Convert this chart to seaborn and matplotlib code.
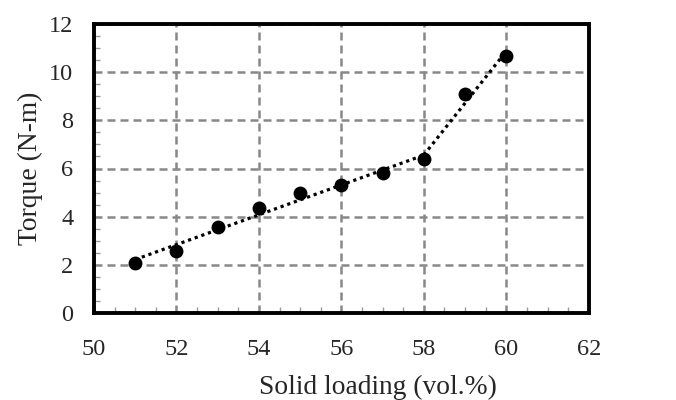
import pandas as pd
import seaborn as sns
import matplotlib.pyplot as plt
from matplotlib.ticker import MultipleLocator

# Torque vs solid loading
solid_loading = [51, 52, 53, 54, 55, 56, 57, 58, 59, 60]
torque = [2.08, 2.59, 3.56, 4.38, 5.00, 5.31, 5.80, 6.38, 9.08, 10.69]

# low-loading and high-loading regions get separate trend lines
split = 7
df = pd.DataFrame({"loading": solid_loading, "torque": torque})
low = df.iloc[:split + 1]
high = df.iloc[split:]

sns.set_style("white")
plt.rcParams['font.family'] = ['Liberation Serif', 'DejaVu Serif']

fig = plt.figure(figsize=(6.76, 4.0), dpi=100)
ax = fig.add_axes([0.139, 0.2175, 0.732, 0.7225])

# grid
ax.set_axisbelow(True)
ax.grid(True, which='major', color='#888888', linestyle=(0, (3.2, 2)), linewidth=1.8)

# trend lines
line_kws = dict(color='black', linestyle=(0, (1, 1.2)), linewidth=2.3)
sns.regplot(data=low, x="loading", y="torque", ci=None, scatter=False,
            truncate=True, line_kws=line_kws, ax=ax)
sns.regplot(data=high, x="loading", y="torque", ci=None, scatter=False,
            truncate=True, line_kws=line_kws, ax=ax)

# measured points
sns.scatterplot(data=df, x="loading", y="torque", color='black', s=100,
                edgecolor='black', linewidth=0, zorder=5, ax=ax)

ax.set_xlim(50, 62)
ax.set_ylim(0, 12)
ax.xaxis.set_major_locator(MultipleLocator(2))
ax.yaxis.set_major_locator(MultipleLocator(2))
ax.xaxis.set_minor_locator(MultipleLocator(0.5))
ax.yaxis.set_minor_locator(MultipleLocator(0.5))
ax.tick_params(which='major', direction='in', length=0, labelsize=17.5)
ax.tick_params(axis='x', which='major', pad=19)
ax.tick_params(axis='y', which='major', pad=15)
ax.tick_params(which='minor', direction='in', length=4, width=1, color='#999999',
               left=True, bottom=True)

for s in ax.spines.values():
    s.set_color('black')
    s.set_linewidth(2.8)

ax.set_xlabel('Solid loading (vol.%)', fontsize=19.8, labelpad=4)
ax.xaxis.set_label_coords(0.574, -0.215)
ax.set_ylabel('Torque (N-m)', fontsize=19.8, labelpad=4)

fig.savefig('out.png', dpi=100)
